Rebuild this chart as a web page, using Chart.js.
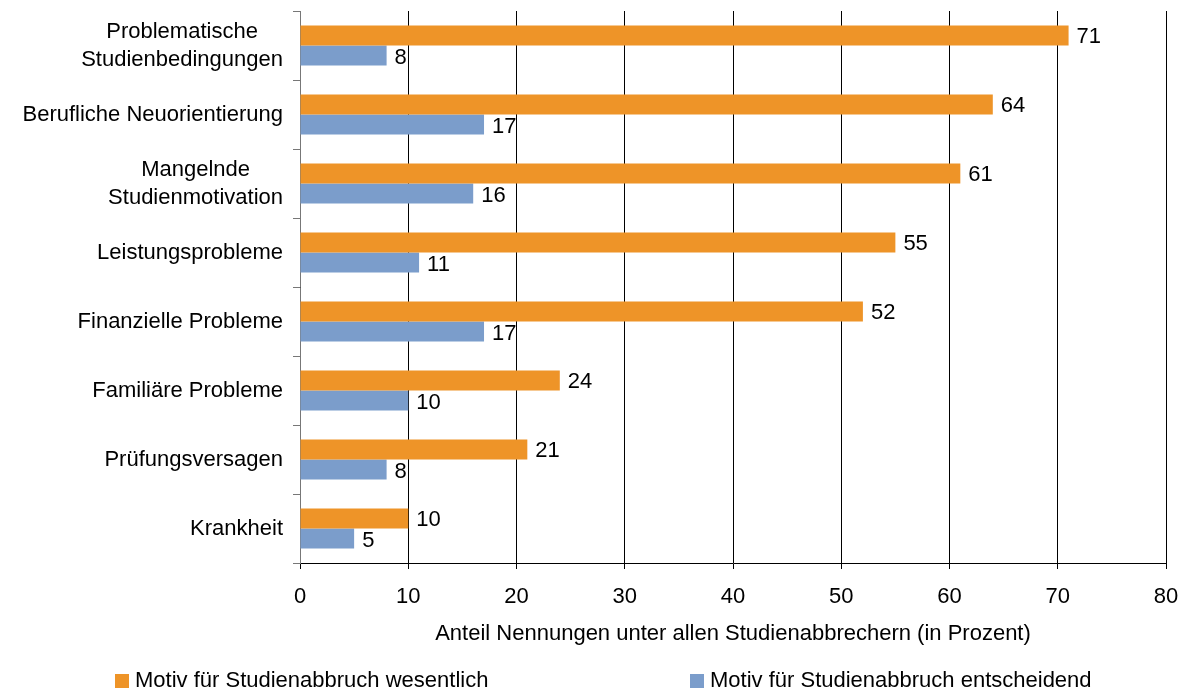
<!DOCTYPE html>
<html>
<head>
<meta charset="utf-8">
<script src="https://cdn.jsdelivr.net/npm/chart.js@4/dist/chart.umd.min.js"></script>
<style>
html,body{margin:0;padding:0;background:#fff;}
#wrap{width:1187px;height:693px;}
</style>
</head>
<body>
<div id="wrap"><canvas id="c" width="1187" height="693"></canvas></div>
<script>
const categories = [
  ["Problematische", "Studienbedingungen"],
  "Berufliche Neuorientierung",
  ["Mangelnde", "Studienmotivation"],
  "Leistungsprobleme",
  "Finanzielle Probleme",
  "Familiäre Probleme",
  "Prüfungsversagen",
  "Krankheit"
];
const seriesNames = ["Motiv für Studienabbruch wesentlich", "Motiv für Studienabbruch entscheidend"];
const wesentlich = [71, 64, 61, 55, 52, 24, 21, 10];
const entscheidend = [8, 17, 16, 11, 17, 10, 8, 5];
const xTicks = [0, 10, 20, 30, 40, 50, 60, 70, 80];
const axisTitle = "Anteil Nennungen unter allen Studienabbrechern (in Prozent)";

const ORANGE = "#EE9428";
const BLUE = "#7B9DCB";
const FONT = "'Liberation Sans', Arial, sans-serif";
const FS = 22;

const valueLabels = {
  id: "valueLabels",
  afterDatasetsDraw(chart) {
    const ctx = chart.ctx;
    ctx.save();
    ctx.font = FS + "px " + FONT;
    ctx.fillStyle = "#000";
    ctx.textBaseline = "middle";
    ctx.textAlign = "left";
    chart.data.datasets.forEach((ds, di) => {
      const meta = chart.getDatasetMeta(di);
      meta.data.forEach((bar, i) => {
        ctx.fillText(String(ds.data[i]), bar.x + 8, bar.y + 1 + di);
      });
    });
    ctx.restore();
  }
};

const catLabels = {
  id: "catLabels",
  afterDraw(chart) {
    const ctx = chart.ctx;
    const y = chart.scales.y;
    ctx.save();
    ctx.font = FS + "px " + FONT;
    ctx.fillStyle = "#000";
    ctx.textBaseline = "middle";
    ctx.textAlign = "center";
    const right = y.right - 17;
    const lh = 28;
    chart.data.labels.forEach((lab, i) => {
      const lines = Array.isArray(lab) ? lab : [lab];
      const w = Math.max(...lines.map(l => ctx.measureText(l).width));
      const cx = right - w / 2;
      const cy = y.getPixelForValue(i);
      lines.forEach((l, k) => {
        ctx.fillText(l, cx, cy + (k - (lines.length - 1) / 2) * lh);
      });
    });
    ctx.restore();
  }
};

const customLegend = {
  id: "customLegend",
  afterDraw(chart) {
    const ctx = chart.ctx;
    const xs = [115, 690];
    const yc = 681;
    ctx.save();
    ctx.font = FS + "px " + FONT;
    ctx.textBaseline = "middle";
    ctx.textAlign = "left";
    chart.data.datasets.forEach((ds, i) => {
      ctx.fillStyle = ds.backgroundColor;
      ctx.fillRect(xs[i], yc - 7, 14, 14);
      ctx.fillStyle = "#000";
      ctx.fillText(ds.label, xs[i] + 20, yc);
    });
    ctx.restore();
  }
};

new Chart(document.getElementById("c"), {
  type: "bar",
  data: {
    labels: categories,
    datasets: [
      { label: seriesNames[0], data: wesentlich, backgroundColor: ORANGE, borderWidth: 0 },
      { label: seriesNames[1], data: entscheidend, backgroundColor: BLUE, borderWidth: 0 }
    ]
  },
  options: {
    indexAxis: "y",
    responsive: false,
    animation: false,
    devicePixelRatio: 1,
    layout: { padding: { top: 11, right: 21, bottom: 40, left: 0 } },
    datasets: { bar: { categoryPercentage: 0.58, barPercentage: 1.0 } },
    plugins: { legend: { display: false }, tooltip: { enabled: false } },
    scales: {
      x: {
        min: 0, max: 80,
        afterBuildTicks(s) { s.ticks = xTicks.map(v => ({ value: v })); },
        afterFit(s) { s.height = 90; s.paddingRight = 0; s.paddingLeft = 0; },
        grid: { color: "#000", lineWidth: 1, tickLength: 6, drawTicks: true },
        border: { color: "#000" },
        ticks: { color: "#000", font: { family: FONT, size: FS }, padding: 15, maxRotation: 0 },
        title: { display: true, text: axisTitle, color: "#000", font: { family: FONT, size: FS }, padding: { top: 0, bottom: 6 } }
      },
      y: {
        afterFit(s) { s.width = 300; s.paddingTop = 0; s.paddingBottom = 0; },
        grid: { offset: true, drawOnChartArea: false, tickLength: 7, color: "#777" },
        border: { color: "#777" },
        ticks: { display: false }
      }
    }
  },
  plugins: [valueLabels, catLabels, customLegend]
});
</script>
</body>
</html>
